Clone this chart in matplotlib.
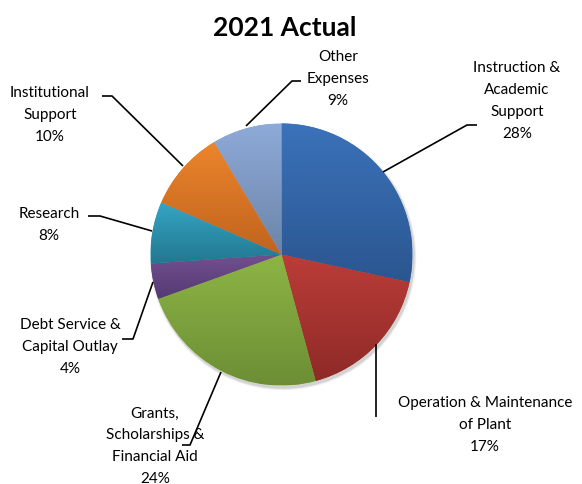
import numpy as np
import matplotlib
matplotlib.use("Agg")
import matplotlib.pyplot as plt
from matplotlib.patches import Circle

plt.rcParams['font.family'] = ['Lato', 'DejaVu Sans']

# data (percent of total)
labels = ["Instruction &\nAcademic\nSupport", "Operation & Maintenance\nof Plant",
          "Grants,\nScholarships &\nFinancial Aid", "Debt Service &\nCapital Outlay",
          "Research", "Institutional\nSupport", "Other\nExpenses"]
values = [28.4, 17.4, 23.7, 4.4, 7.6, 9.9, 8.6]
top_colors = ["#3b72ba", "#bb3d38", "#8db545", "#71508f", "#35a5c4", "#ec852b", "#8eaad8"]
bot_colors = ["#2b5690", "#8e2a27", "#6d8e35", "#553a73", "#22778f", "#c0631f", "#6b84a8"]

# label placement (pixel coords) and leader lines
label_pos = [(517, 101), (485, 425), (155, 446), (70, 347), (49, 225), (50, 115), (338, 79)]
leaders = [
    [(383, 173), (467, 126), (477, 126)],
    [(376, 345), (376, 418)],
    [(221, 373), (190, 446), (182, 446)],
    [(153, 283), (133, 340), (122, 340)],
    [(152, 232), (100, 217), (88, 217)],
    [(183, 167), (112, 97), (102, 97)],
    [(246, 127), (292, 82), (301, 82)],
]

W, H = 582, 485
fig = plt.figure(figsize=(W / 100, H / 100), dpi=100)
ax = fig.add_axes([0, 0, 1, 1])

cx, cy, r = 281.5, H - 255.5, 131

# soft shadow
for k, a in zip([4, 3, 2, 1], [0.03, 0.04, 0.05, 0.06]):
    ax.add_patch(Circle((cx + 1.5, cy - 2.5), r + k * 0.6, color="black", alpha=a, lw=0, zorder=0))

wedges, _ = ax.pie(values, center=(cx, cy), radius=r, startangle=90, counterclock=False,
                   colors=top_colors, wedgeprops=dict(linewidth=0, edgecolor="none"))

for w, c1, c2 in zip(wedges, top_colors, bot_colors):
    bb = w.get_path().get_extents()
    t = np.linspace(0, 1, 256)[:, None]
    a = np.array(matplotlib.colors.to_rgb(c1))
    b = np.array(matplotlib.colors.to_rgb(c2))
    img = (a * (1 - t) + b * t)[:, None, :]
    im = ax.imshow(img, extent=(bb.x0, bb.x1, bb.y0, bb.y1), origin="upper",
                   aspect="auto", zorder=2, interpolation="bilinear")
    im.set_clip_path(w)

for lab, v, (x, y) in zip(labels, values, label_pos):
    ax.text(x, H - y, f"{lab}\n{round(v)}%", ha="center", va="center",
            fontsize=11, linespacing=1.7, color="black", zorder=5)

for pts in leaders:
    xs = [p[0] for p in pts]
    ys = [H - p[1] for p in pts]
    ax.plot(xs, ys, color="black", lw=1.2, zorder=4, solid_capstyle="butt")

ax.text(285, H - 28, "2021 Actual", ha="center", va="center", fontsize=19,
        fontweight="bold", zorder=5)

ax.set_xlim(0, W)
ax.set_ylim(0, H)
ax.set_aspect("equal")
ax.axis("off")

fig.savefig("out.png", dpi=100)
